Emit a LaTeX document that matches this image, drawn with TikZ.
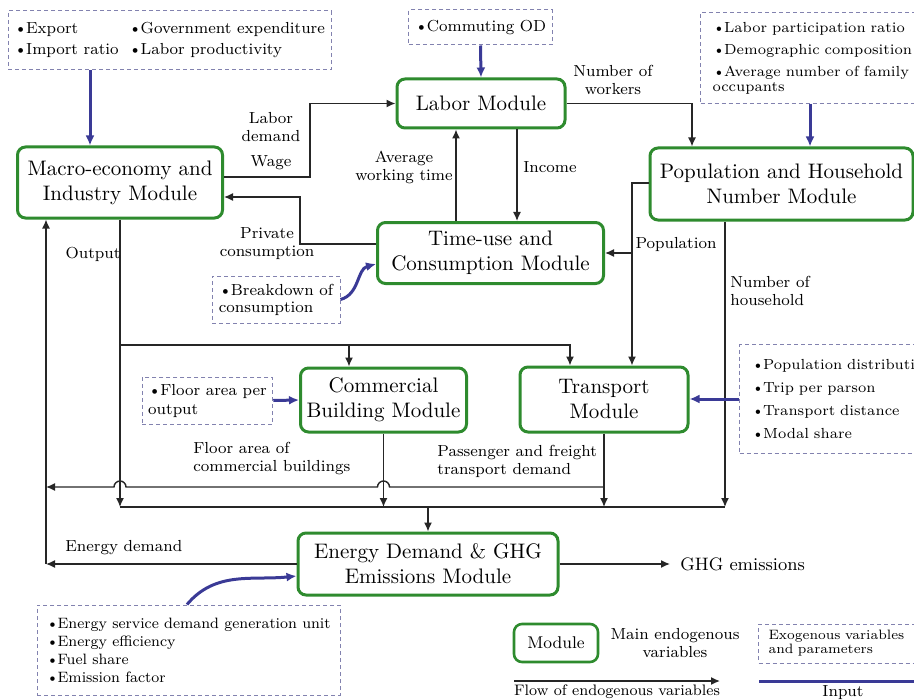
\documentclass[tikz,border=0pt]{standalone}
\usetikzlibrary{arrows.meta}

\definecolor{modgreen}{RGB}{46,139,46}
\definecolor{inblue}{RGB}{58,58,150}
\definecolor{exogray}{RGB}{130,130,175}

\newcommand{\itm}{\textbullet\kern-0.6pt}

\tikzset{
  module/.style={draw=modgreen, line width=1.5pt, rounded corners=4pt, align=center,
    font=\fontsize{10.5}{12.5}\selectfont, inner sep=2pt},
  exo/.style={draw=exogray, dash pattern=on 2pt off 1.5pt, line width=0.5pt, align=left,
    font=\fontsize{8}{9.5}\selectfont, inner sep=3pt},
  small/.style={font=\fontsize{7.3}{9}\selectfont},
  flow/.style={draw=black!85, line width=0.7pt, -{Latex[length=4.5pt,width=4pt]}},
  input/.style={draw=inblue, line width=1.5pt, -{Latex[length=5pt,width=4.5pt]}},
  lbl/.style={align=center, font=\fontsize{8}{9}\selectfont, inner sep=1pt},
}

\begin{document}
\begin{tikzpicture}[x=0.5pt,y=-0.5pt]
\useasboundingbox (0,0) rectangle (914,700);

% modules
\node[module, minimum width=102.5pt, minimum height=35.5pt] (macro) at (120,182.5) {Macro-economy and\\Industry Module};
\node[module, minimum width=84pt, minimum height=24.5pt] (labor) at (481,103.5) {Labor Module};
\node[module, minimum width=131.5pt, minimum height=36pt] (pop) at (781.5,184) {Population and Household\\Number Module};
\node[module, minimum width=113pt, minimum height=30.5pt] (timeuse) at (490.5,253) {Time-use and\\Consumption Module};
\node[module, minimum width=83pt, minimum height=32pt] (comm) at (383.5,400) {Commercial\\Building Module};
\node[module, minimum width=84pt, minimum height=32.5pt] (trans) at (604,399.5) {Transport\\Module};
\node[module, minimum width=130pt, minimum height=31pt] (energy) at (428,564) {Energy Demand \& GHG\\Emissions Module};

% exogenous inputs
\node[exo, minimum width=161.5pt, minimum height=29.5pt] (exoMacro) at (169.5,40.5)
  {\begin{tabular}{@{}l@{\hspace{5pt}}l@{}}\itm Export & \itm Government expenditure\\[1pt]
   \itm Import ratio & \itm Labor productivity\end{tabular}};
\node[exo, minimum width=68.5pt, minimum height=17.5pt] (exoOD) at (480.5,27.5) {\itm Commuting OD};
\node[exo, small, anchor=north west, text width=110pt, inner xsep=6pt, minimum height=45.5pt] (exoPop) at (700,12)
  {\itm Labor participation ratio\\[2pt] \itm Demographic composition\\[2pt]
   \itm Average number of family\\[-1.5pt] occupants};
\node[exo, minimum width=64pt, minimum height=23.5pt] (exoBreak) at (276,299.5) {\itm Breakdown of\\[-1pt] consumption};
\node[exo, minimum width=64.5pt, minimum height=23.5pt] (exoFloor) at (207.5,400.5) {\itm Floor area per\\ output};
\node[exo, small, anchor=north west, text width=110pt, inner xsep=6pt, minimum height=54.5pt] (exoTrans) at (739,344)
  {\itm Population distribution\\[2.5pt] \itm Trip per parson\\[2.5pt] \itm Transport distance\\[2.5pt] \itm Modal share};
\node[exo, minimum width=151.5pt, minimum height=45pt, font=\fontsize{7.5}{9}\selectfont] (exoEnergy) at (188.5,650)
  {\itm Energy service demand generation unit\\ \itm Energy efficiency\\ \itm Fuel share\\ \itm Emission factor};

% junctions
\coordinate (outJ) at (120,345);
\coordinate (outB) at (349,345);
\coordinate (popJ) at (632,253);
\coordinate (busL) at (120,507);
\coordinate (busR) at (725,507);
\coordinate (fbL) at (46,487);
\coordinate (edL) at (46,564);

% endogenous flows
\draw[flow] (macro.east |- 0,177) -- (310,177) |- (labor.west);
\draw[flow] (timeuse.west |- 0,244) -- (300,244) |- (macro.east |- 0,197);
\draw[flow] (456,0 |- timeuse.north) -- (456,0 |- labor.south);
\draw[flow] (517,0 |- labor.south) -- (517,0 |- timeuse.north);
\draw[flow] (labor.east) -| (692,0 |- pop.north);
\draw[flow] (pop.west |- 0,183) -- (632,183) -- (632,0 |- trans.north);
\draw[flow] (popJ) -- (timeuse.east);
\draw[flow] (725,0 |- pop.south) -- (busR);
\draw[flow] (macro.south) -- (busL);
\draw[flow] (outJ) -| (570,0 |- trans.north);
\draw[flow] (outB) -- (outB |- comm.north);
\draw[flow] (comm.south) -- (comm.south |- busL);
\draw[flow] (trans.south) -- (trans.south |- busL);
\draw[draw=black!85, line width=0.7pt] (busL) -- (busR);
\draw[flow] (energy.north |- busL) -- (energy.north);
\draw[flow] (trans.south |- fbL) -- (389.5,487) arc (0:180:3pt) -- (126,487) arc (0:180:3pt) -- (fbL);
\draw[flow] (energy.west) -- (edL);
\draw[flow] (edL) -- (46,0 |- macro.south);
\node[lbl, font=\fontsize{9}{11}\selectfont, anchor=west, inner xsep=5pt] (ghg) at (670,564) {GHG emissions};
\draw[flow] (energy.east) -- (ghg.west);

% inputs
\draw[input] (exoMacro.south -| 90,0) -- (macro.north -| 90,0);
\draw[input] (exoOD.south) -- (labor.north);
\draw[input] (810,0 |- exoPop.south) -- (810,0 |- pop.north);
\draw[input] (exoBreak.east) to[out=15,in=195] (timeuse.west |- 0,264);
\draw[input] (exoFloor.east) -- (comm.west);
\draw[input] (exoTrans.west) -- (exoTrans.west -| trans.east);
\draw[input] (187,0 |- exoEnergy.north) to[out=50,in=186] (energy.west |- 0,576);

% labels
\node[lbl] (lbDemand) at (271,141) {Labor\\demand\\[3.5pt]Wage};
\node[lbl] (lbPriv) at (267,244) {Private\\consumption};
\node[lbl] (lbAvg) at (404,167) {Average\\working time};
\node[lbl] (lbInc) at (550,167) {Income};
\node[lbl] (lbWork) at (613,80) {Number of\\workers};
\node[lbl] (lbPop) at (676,245) {Population};
\node[lbl, anchor=west, align=left] (lbHh) at (728,291) {Number of\\household};
\node[lbl] (lbOut) at (93,254) {Output};
\node[lbl, anchor=west, align=left] (lbFloor) at (191,459) {Floor area of\\commercial buildings};
\node[lbl, anchor=west, align=left] (lbPass) at (435,461) {Passenger and freight\\transport demand};
\node[lbl, anchor=west] (lbEd) at (63,548) {Energy demand};

% legend
\node[module, minimum width=42pt, minimum height=19pt, line width=1.3pt, font=\fontsize{8.5}{10}\selectfont] (lgMod) at (556,643) {Module};
\node[lbl] (lgModTxt) at (675,643) {Main endogenous\\variables};
\node[exo, font=\fontsize{6.8}{8.5}\selectfont, anchor=west, text width=72pt, inner xsep=5pt, minimum height=19.5pt] (lgExo) at (758,643.5)
  {Exogenous variables\\[-1.5pt] and parameters};
\coordinate (lgFa) at (514,681);
\coordinate (lgFb) at (720,681);
\draw[flow] (lgFa) -- (lgFb);
\node[lbl, font=\fontsize{7.6}{9}\selectfont] (lgFlow) at (617,692) {Flow of endogenous variables};
\coordinate (lgIa) at (759,681);
\coordinate (lgIb) at (924,681);
\draw[draw=inblue, line width=1.5pt] (lgIa) -- (lgIb);
\node[lbl] (lgIn) at (843,693) {Input};
\end{tikzpicture}
\end{document}
